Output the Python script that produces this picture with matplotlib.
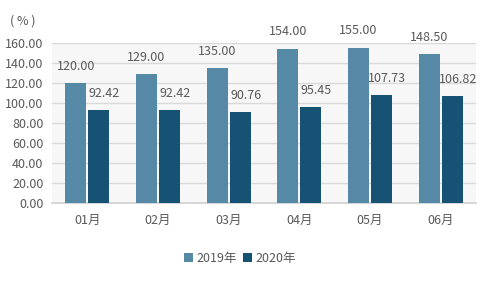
import numpy as np
import matplotlib.pyplot as plt

plt.rcParams['font.family'] = ['Noto Sans CJK SC', 'DejaVu Sans']

months = ['01月', '02月', '03月', '04月', '05月', '06月']
vals_2019 = [120.00, 129.00, 135.00, 154.00, 155.00, 148.50]
vals_2020 = [92.42, 92.42, 90.76, 95.45, 107.73, 106.82]
yticks = [0, 20, 40, 60, 80, 100, 120, 140, 160]

c2019 = '#5689a6'
c2020 = '#155273'
txt = '#595959'

fig = plt.figure(figsize=(4.8, 2.97), dpi=100)
ax = fig.add_axes([0.108, 0.3165, 0.884, 0.54])
ax.set_facecolor('#f7f7f7')

x = np.arange(len(months))
w = 0.295
b1 = ax.bar(x - w / 2 - 0.015, vals_2019, w, color=c2019, label='2019年', zorder=3)
b2 = ax.bar(x + w / 2 + 0.015, vals_2020, w, color=c2020, label='2020年', zorder=3)

# value labels above the bars
for rect, v in zip(b1, vals_2019):
    ax.annotate(f'{v:.2f}', (rect.get_x() + rect.get_width() / 2, v),
                xytext=(0, 12), textcoords='offset points', ha='center', va='center',
                fontsize=9, color=txt, annotation_clip=False)
for rect, v in zip(b2, vals_2020):
    ax.annotate(f'{v:.2f}', (rect.get_x() + rect.get_width() / 2, v),
                xytext=(4, 12), textcoords='offset points', ha='center', va='center',
                fontsize=9, color=txt, annotation_clip=False)

ax.set_xlim(-0.5, len(months) - 0.5)
ax.set_ylim(0, 160)
ax.set_yticks(yticks)
ax.set_yticklabels([f'{t:.2f}' for t in yticks], fontsize=9, color=txt)
ax.set_xticks(x)
ax.set_xticklabels(months, fontsize=9, color=txt)
ax.tick_params(length=0, pad=6)
ax.tick_params(axis='x', pad=8)
ax.grid(axis='y', color='#d9d9d9', linewidth=1, zorder=0)
for s in ['top', 'right', 'left']:
    ax.spines[s].set_visible(False)
ax.spines['bottom'].set_color('#d0d0d0')
ax.spines['bottom'].set_linewidth(1.2)

fig.text(0.021, 0.93, '( % )', fontsize=9, color=txt, ha='left', va='center')

fig.legend(loc='center', bbox_to_anchor=(0.5, 0.13), ncol=2, frameon=False,
           fontsize=9, labelcolor=txt, handlelength=0.7, handleheight=0.7,
           handletextpad=0.3, columnspacing=0.5)

fig.savefig('out.png', dpi=100)
